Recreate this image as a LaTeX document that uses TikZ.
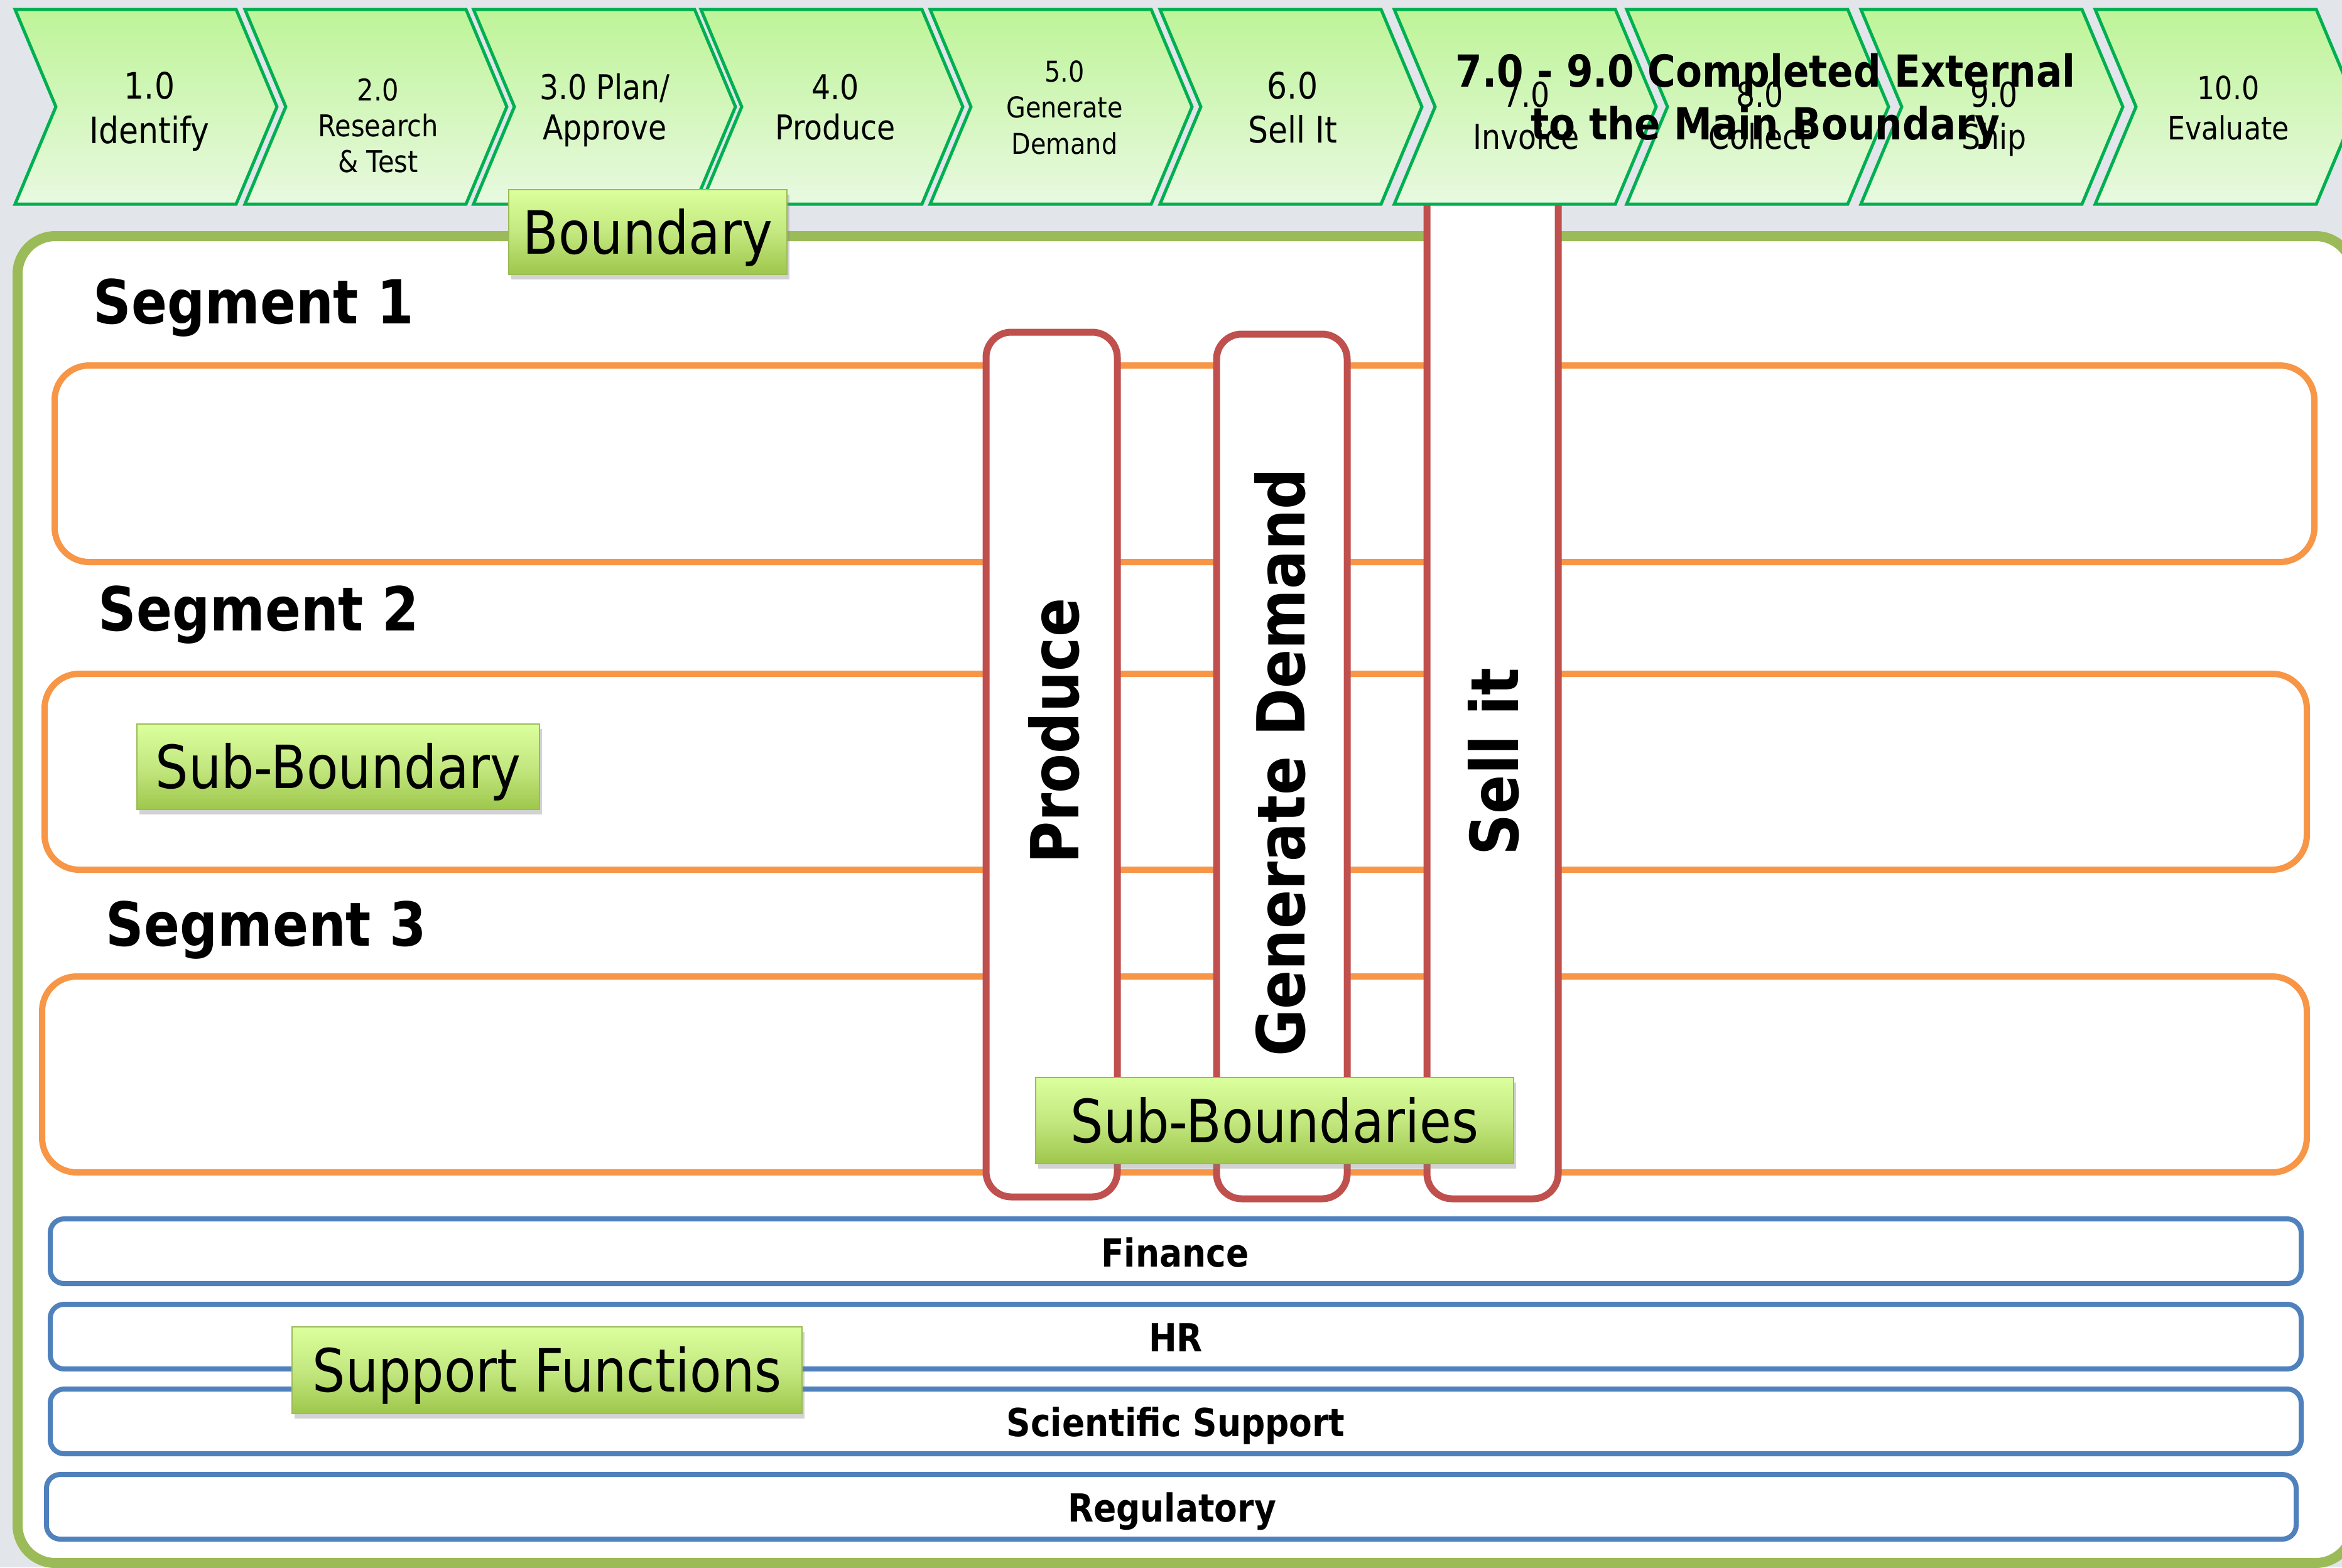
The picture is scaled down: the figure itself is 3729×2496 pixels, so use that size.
\documentclass[tikz,border=0pt]{standalone}
\usepackage{fontspec}
\setmainfont[FakeStretch=0.87]{DejaVu Sans}
\usetikzlibrary{shadows}

\definecolor{bggrey}{RGB}{226,229,234}
\definecolor{chevgreen}{RGB}{0,176,80}
\definecolor{chevtop}{RGB}{190,244,152}
\definecolor{chevbot}{RGB}{232,249,224}
\definecolor{mainolive}{RGB}{155,187,89}
\definecolor{segorange}{RGB}{247,150,70}
\definecolor{subred}{RGB}{192,80,77}
\definecolor{supblue}{RGB}{79,129,189}
\definecolor{tagtop}{RGB}{218,255,156}
\definecolor{tagmid}{RGB}{196,232,128}
\definecolor{tagbot}{RGB}{158,199,76}
\definecolor{tagborder}{RGB}{155,187,89}

\newcommand\sz[1]{\fontsize{#1pt}{#1pt}\selectfont}
% one process chevron, given its left x
\newcommand\chevshape[1]{\path[chev] (#1,15) -- ++(352,0) -- ++(65,155) -- ++(-65,155) -- ++(-352,0) -- ++(65,-155) -- cycle;}

\begin{document}
\begin{tikzpicture}[x=0.1mm, y=-0.1mm,
  box/.style={anchor=north west, inner sep=0pt, outer sep=0pt, fill=white},
  boundarybox/.style={box, draw=mainolive, line width=1.6mm, rounded corners=6mm},
  segbox/.style={box, draw=segorange, line width=1mm, rounded corners=5.5mm},
  subbox/.style={box, draw=subred, line width=1.1mm, rounded corners=4mm},
  supbox/.style={box, draw=supblue, line width=0.8mm, rounded corners=2.2mm},
  tag/.style={anchor=north west, inner sep=0pt, outer sep=0pt, draw=tagborder,
    line width=0.2mm, top color=tagtop, bottom color=tagbot, middle color=tagmid,
    drop shadow={shadow xshift=0.4mm, shadow yshift=-0.8mm, opacity=0.35},
    font=\sz{27}, text height=19.7pt, text depth=0pt},
  chev/.style={draw=chevgreen, line width=0.5mm, top color=chevtop, bottom color=chevbot},
  steptext/.style={anchor=base, inner sep=0pt},
  bigtext/.style={anchor=base, inner sep=0pt, font=\bfseries\sz{20}},
  seglabel/.style={anchor=base west, inner sep=0pt, font=\bfseries\sz{27.5}},
  vlabel/.style={anchor=base, rotate=90, inner sep=0pt, font=\bfseries\sz{30}},
  suplabel/.style={anchor=base, inner sep=0pt, font=\bfseries\sz{17.5}},
]
\useasboundingbox (0,0) rectangle (3729,2496);
\fill[bggrey] (0,0) rectangle (3729,2496);

% main boundary (its right side runs past the page edge)
\node[boundarybox, minimum width=371.9mm, minimum height=211.3mm] (main) at (28,376) {};

% segments
\node[segbox, minimum width=359.8mm, minimum height=31.3mm] (seg1) at (87,582) {};
\node[segbox, minimum width=360.2mm, minimum height=31.2mm] (seg2) at (71,1073) {};
\node[segbox, minimum width=360.6mm, minimum height=31.2mm] (seg3) at (67,1555) {};

% vertical sub-boundaries
\node[subbox, minimum width=20.9mm, minimum height=137.7mm] (prod) at (1570,529) {};
\node[subbox, minimum width=20.8mm, minimum height=137.7mm] (gend) at (1937,532) {};
\node[subbox, minimum width=20.9mm, minimum height=165.9mm] (sell) at (2272,250) {};

% support functions
\node[supbox, minimum width=358.4mm, minimum height=10.3mm] (fin) at (80,1941) {};
\node[supbox, minimum width=358.4mm, minimum height=10.3mm] (hr)  at (80,2077) {};
\node[supbox, minimum width=358.4mm, minimum height=10.3mm] (sci) at (80,2212) {};
\node[supbox, minimum width=358.2mm, minimum height=10.3mm] (reg) at (74,2348) {};

% process chevrons
\foreach \lx in {24,390,754,1116,1481,1847,2220,2590,2963,3336} {\chevshape{\lx}}

\begin{scope}[every node/.append style={steptext}]
\node[font=\sz{16.5}] (s1a) at (238,157) {1.0};
\node[font=\sz{16.5}] (s1b) at (238,228) {Identify};
\node[font=\sz{13.6}] (s2a) at (602,160) {2.0};
\node[font=\sz{13.6}] (s2b) at (602,217) {Research};
\node[font=\sz{13.6}] (s2c) at (602,274) {\& Test};
\node[font=\sz{15.5}] (s3a) at (963,158) {3.0 Plan/};
\node[font=\sz{15.5}] (s3b) at (963,222) {Approve};
\node[font=\sz{15.5}] (s4a) at (1330,158) {4.0};
\node[font=\sz{15.5}] (s4b) at (1330,222) {Produce};
\node[font=\sz{13}] (s5a) at (1695,130) {5.0};
\node[font=\sz{13}] (s5b) at (1695,187) {Generate};
\node[font=\sz{13}] (s5c) at (1695,245) {Demand};
\node[font=\sz{16.5}] (s6a) at (2058,157) {6.0};
\node[font=\sz{16.5}] (s6b) at (2058,227) {Sell It};
\node[font=\sz{15.5}] (s7a) at (2430,170) {7.0};
\node[font=\sz{15.5}] (s7b) at (2430,237) {Invoice};
\node[font=\sz{15.5}] (s8a) at (2802,170) {8.0};
\node[font=\sz{15.5}] (s8b) at (2802,237) {Collect};
\node[font=\sz{15.5}] (s9a) at (3175,170) {9.0};
\node[font=\sz{15.5}] (s9b) at (3175,237) {Ship};
\node[font=\sz{14.5}] (s10a) at (3548,158) {10.0};
\node[font=\sz{14.5}] (s10b) at (3548,222) {Evaluate};
\end{scope}

% note across steps 7 to 9
\node[bigtext] (ext1) at (2811,138) {7.0 - 9.0 Completed External};
\node[bigtext] (ext2) at (2811,222) {to the Main Boundary};

% segment titles
\node[seglabel] (t1) at (148,515) {Segment 1};
\node[seglabel] (t2) at (156,1004) {Segment 2};
\node[seglabel] (t3) at (168,1506) {Segment 3};

% vertical titles
\node[vlabel] (vprod) at (1717,1164) {Produce};
\node[vlabel] (vgend) at (2077,1214) {Generate Demand};
\node[vlabel] (vsell) at (2417,1213) {Sell it};

% support function titles
\node[suplabel] (tfin) at (1871,2017) {Finance};
\node[suplabel] (thr)  at (1872,2152) {HR};
\node[suplabel] (tsci) at (1872,2287) {Scientific Support};
\node[suplabel] (treg) at (1866,2423) {Regulatory};

% green tags
\node[tag, minimum width=44.3mm, minimum height=13.5mm] (tagb) at (810,302) {Boundary};
\node[tag, minimum width=64.1mm, minimum height=13.6mm] (tagsb) at (218,1153) {Sub-Boundary};
\node[tag, minimum width=76.1mm, minimum height=13.7mm] (tagsbs) at (1649,1716) {Sub-Boundaries};
\node[tag, minimum width=81.2mm, minimum height=13.8mm] (tagsf) at (465,2113) {Support Functions};
\end{tikzpicture}
\end{document}
